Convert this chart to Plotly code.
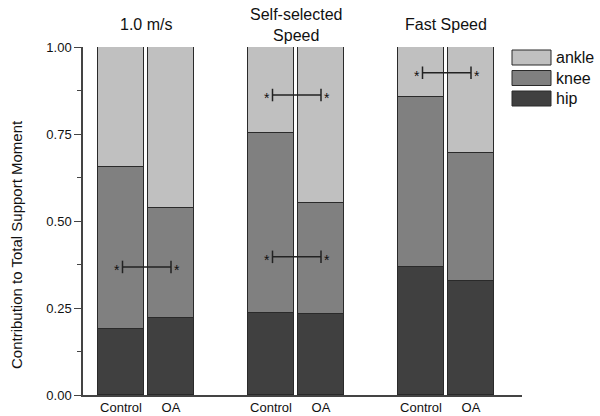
import plotly.graph_objects as go

# ---- data ----
group_titles = ["1.0 m/s", "Self-selected<br>Speed", "Fast Speed"]
bar_labels = ["Control", "OA", "Control", "OA", "Control", "OA"]
bar_pos = [0, 1, 3, 4, 6, 7]
hip = [0.19, 0.22, 0.237, 0.232, 0.368, 0.328]
knee = [0.466, 0.318, 0.516, 0.319, 0.487, 0.366]
ankle = [0.344, 0.462, 0.247, 0.449, 0.145, 0.306]
series_names = ["hip", "knee", "ankle"]
series_colors = ["#404040", "#808080", "#c0c0c0"]
# significance brackets: (index of Control bar, y level)
sig_bar = [0, 2, 2, 4]
sig_y = [0.368, 0.397, 0.862, 0.926]
y_title = "Contribution to Total Support Moment"

FONT = "Liberation Sans, Arial, sans-serif"
L, R, T, B = 83, 78, 47, 21
PW, PH = 600 - L - R, 416 - T - B


def px_x(p):
    return (p - L) / PW


def px_y(p):
    return 1 - (p - T) / PH


fig = go.Figure()
for name, vals, col in zip(series_names, [hip, knee, ankle], series_colors):
    fig.add_trace(go.Bar(
        x=bar_pos, y=vals, name=name, width=0.92,
        marker=dict(color=col, line=dict(color="#2a2a2a", width=1)),
        showlegend=False,
    ))

# group titles
for i, t in enumerate(group_titles):
    cx = (bar_pos[2 * i] + bar_pos[2 * i + 1]) / 2
    fig.add_annotation(x=cx, y=px_y(25), xref="x", yref="paper", yanchor="middle",
                       text=t, showarrow=False,
                       font=dict(size=16, color="#111", family=FONT))

# y-axis title
fig.add_annotation(x=px_x(16), y=px_y(245), xref="paper", yref="paper",
                   text=y_title, textangle=-90, showarrow=False,
                   xanchor="center", yanchor="middle",
                   font=dict(size=15, color="#111", family=FONT))

# significance brackets
tick_h = 0.018
for b, yv in zip(sig_bar, sig_y):
    x0 = bar_pos[b] + 0.03
    x1 = bar_pos[b + 1]
    fig.add_shape(type="line", x0=x0, x1=x1, y0=yv, y1=yv, xref="x", yref="y",
                  line=dict(color="#222", width=1.5))
    for xx in (x0, x1):
        fig.add_shape(type="line", x0=xx, x1=xx, y0=yv - tick_h, y1=yv + tick_h,
                      xref="x", yref="y", line=dict(color="#222", width=1.5))
    fig.add_annotation(x=x0, y=yv, xref="x", yref="y", text="*", showarrow=False,
                       xanchor="right", xshift=-1, yshift=-3,
                       font=dict(size=14, color="#111", family=FONT))
    fig.add_annotation(x=x1, y=yv, xref="x", yref="y", text="*", showarrow=False,
                       xanchor="left", xshift=1, yshift=-3,
                       font=dict(size=14, color="#111", family=FONT))

# custom legend (ankle, knee, hip from top)
leg_order = [2, 1, 0]
for k, si in enumerate(leg_order):
    top = 50 + k * 20.5
    y_top = px_y(top)
    y_bot = px_y(top + 15)
    fig.add_shape(type="rect", xref="paper", yref="paper",
                  x0=px_x(512), x1=px_x(551), y0=y_bot, y1=y_top,
                  fillcolor=series_colors[si], line=dict(color="#2a2a2a", width=1))
    fig.add_annotation(x=px_x(554), y=(y_top + y_bot) / 2, xref="paper", yref="paper",
                       xanchor="left", yanchor="middle", text=series_names[si],
                       showarrow=False, font=dict(size=16, color="#111", family=FONT))

fig.update_layout(
    width=600, height=416,
    margin=dict(l=L, r=R, t=T, b=B, autoexpand=False),
    plot_bgcolor="white", paper_bgcolor="white",
    barmode="stack", bargap=0,
    font=dict(family=FONT, color="#111"),
    xaxis=dict(range=[-0.76, 8.02], tickvals=bar_pos, ticktext=bar_labels,
               showline=True, linecolor="#444", linewidth=1.5, ticks="",
               showgrid=False, zeroline=False, automargin=False,
               tickfont=dict(size=13, color="#111", family=FONT)),
    yaxis=dict(range=[0, 1.0], tickvals=[0, 0.25, 0.5, 0.75, 1.0], tickformat=".2f",
               showline=True, linecolor="#444", linewidth=1.5,
               ticks="outside", ticklen=7, tickwidth=1.2, tickcolor="#444",
               minor=dict(dtick=0.125, ticks="outside", ticklen=4, tickcolor="#444",
                          showgrid=False),
               showgrid=False, zeroline=False, automargin=False,
               tickfont=dict(size=13, color="#111", family=FONT)),
)

fig.write_html("out.html", config={"displayModeBar": False},
               post_script="document.body.style.margin='0';document.body.style.overflow='hidden';")
